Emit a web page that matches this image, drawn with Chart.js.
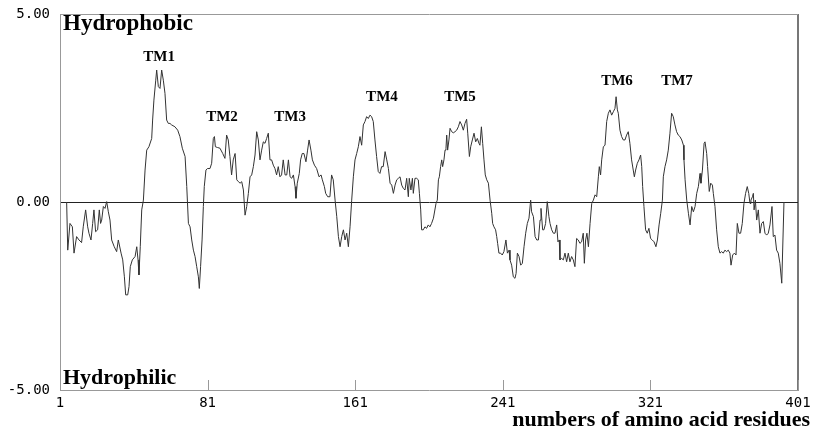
<!DOCTYPE html>
<html>
<head>
<meta charset="utf-8">
<script src="https://cdn.jsdelivr.net/npm/chart.js@4.4.1/dist/chart.umd.min.js"></script>
<style>
    html, body { margin: 0; padding: 0; background: #fff; }
</style>
</head>
<body>
<canvas id="hydroChart" width="813" height="434"></canvas>
<script>
// Hydropathy profile (residue number, score)
const residues = [
    4.6, 5.2, 6.4, 7.7, 8.6, 10.0, 11.3, 12.7, 13.6, 14.9, 16.0, 16.7, 17.8, 18.7, 19.4, 20.3, 21.4, 22.3, 23.0, 23.6,
    24.5, 25.4, 26.3, 27.2, 28.1, 29.0, 30.4, 31.7, 32.6, 34.1, 35.0, 35.9, 36.6, 37.7, 38.4, 39.1, 40.2, 41.7, 42.6, 43.3,
    43.8, 44.5, 45.3, 46.2, 47.1, 48.0, 49.2, 50.7, 51.2, 51.9, 52.9, 53.4, 54.3, 55.2, 56.1, 57.0, 57.9, 58.8, 59.7, 60.6,
    61.5, 63.3, 64.8, 66.0, 67.3,
    68.8, 69.7, 70.6, 71.5, 72.4, 73.3, 74.2, 75.1, 76.0, 76.5, 77.2, 78.0, 78.7, 79.2, 80.1, 80.9, 82.3, 83.2, 84.1, 84.7,
    85.2, 86.3, 87.7, 89.2, 90.4, 91.3, 92.2, 93.1, 94.0, 94.9, 95.9, 96.8, 97.7, 98.6, 99.5, 100.4, 101.3, 102.2, 103.1, 104.0,
    104.9, 105.8, 106.7, 107.6, 108.5, 109.4, 110.3, 111.2, 112.1, 113.0, 113.9, 114.8, 115.7, 116.6, 117.5, 118.4, 119.3, 120.2, 121.1, 122.0,
    123.0, 123.9, 124.8, 125.7, 126.6, 127.5, 128.4, 128.9, 129.6, 130.7, 131.4, 132.3, 133.2, 134.3, 135.2,
    136.0, 137.0, 137.8, 138.9, 140.1, 141.4, 142.5, 143.2, 144.3, 145.0, 146.1, 147.3, 148.2, 149.1, 150.1, 151.0, 151.9, 152.8, 153.7, 154.6,
    155.5, 156.4, 157.3, 158.2, 159.1, 160.0, 160.9, 161.8, 162.7, 163.6, 164.5, 165.4, 166.3, 167.2, 168.1, 169.0, 169.9, 170.8, 171.7, 172.6,
    173.5, 174.4, 175.3, 176.2, 177.2, 178.1, 179.0, 179.9, 180.8, 181.7, 182.6, 183.5, 184.4, 185.3, 186.2, 187.1, 188.0, 188.9, 189.8, 190.3,
    191.2, 192.0, 192.5, 193.4, 194.3, 195.2, 195.8, 196.5, 197.0, 197.9, 198.8, 199.7, 200.6, 201.5, 202.4, 203.4,
    204.8, 205.5, 206.1, 206.6, 207.3, 207.9, 208.4, 209.1, 209.7, 210.2, 210.6, 211.1, 211.8, 212.4, 213.3, 214.2, 215.1, 216.0, 216.9, 217.8,
    218.7, 219.6, 220.5, 221.4, 222.0, 222.9, 223.6, 224.5, 225.4, 226.3, 227.2, 228.1, 228.6, 229.4, 230.1, 230.8, 231.5, 232.3, 233.2, 234.1,
    235.0, 235.5, 236.2, 237.1, 237.7, 238.2, 238.9, 239.8, 240.7, 241.6, 242.7, 243.5, 244.4, 244.9, 245.8, 246.7, 247.6, 248.2, 248.9, 249.8,
    250.7, 251.6, 252.5, 253.4, 254.3, 255.2, 256.1, 256.6, 257.6, 258.5, 259.4, 260.3, 261.2, 261.7, 262.6, 263.3, 264.2, 265.1, 266.0, 266.6,
    267.5, 268.4, 269.3, 270.2, 270.9, 271.6, 272.0,
    272.9, 273.8, 274.7, 275.6, 276.5, 277.4, 278.3, 279.2, 280.1, 281.0, 281.9, 282.8, 283.7, 284.6, 285.2, 285.9, 286.6, 287.4, 288.3, 289.2,
    290.1, 291.0, 291.9, 292.8, 293.3, 294.0, 294.6, 295.5, 296.4, 297.3, 298.2, 299.1, 300.0, 300.9, 301.8, 302.4, 303.1, 303.6, 304.5, 305.4,
    306.3, 307.2, 308.1, 309.0, 309.9, 310.8, 311.7, 312.3, 313.0, 313.9, 314.8, 315.7, 316.3, 316.8, 317.5, 318.4, 319.3, 320.2, 321.1, 322.0,
    323.0, 324.0, 324.8, 325.7, 326.6, 327.5, 328.0, 328.9, 329.8, 330.7, 331.6, 332.5, 333.4, 334.3, 335.2, 336.1, 337.0, 338.0, 338.9,
    339.2, 339.8, 340.7, 341.6, 342.5, 343.4, 344.3, 345.2, 346.1, 347.0, 347.9, 348.4, 349.2, 350.1, 350.6, 351.5, 352.0, 352.9, 353.7, 354.6,
    355.1, 356.0, 356.9, 357.8, 358.7, 359.6, 360.5, 361.4, 362.3, 363.2, 364.1, 364.7, 365.6, 366.5, 367.4, 368.1, 369.0, 369.9, 370.8, 371.7,
    372.6, 373.5, 374.3, 375.0, 375.5, 376.3, 376.8, 377.2, 377.9, 378.6, 379.5, 380.4, 381.3, 382.2, 383.1, 384.0, 384.9, 385.8, 386.9, 387.6,
    388.5, 389.4, 390.3, 391.2, 392.2, 393.4
];
const hydropathy = [
    0, -1.28, -0.57, -0.66, -1.36, -0.92, -1.01, -1.08, -0.66, -0.21, -0.66, -0.83, -1.01, -0.57, -0.21, -0.79, -0.74, -0.21, -0.57, -0.48,
    -0.12, -0.17, 0.01, -0.26, -0.48, -1.01, -1.19, -1.32, -1.01, -1.36, -1.54, -1.99, -2.47, -2.47, -2.25, -1.72, -1.54, -1.45, -1.19, -1.54,
    -1.94, -1.19, -0.21, 0.05, 0.85, 1.38, 1.47, 1.69, 2.18, 2.71, 3.24, 3.51, 3.07, 3.02, 3.51, 3.24, 2.89, 2.18, 2.09, 2.09,
    2.05, 2.00, 1.91, 1.74, 1.43,
    1.21, 0.41, -0.57, -0.66, -1.01, -1.28, -1.45, -1.72, -1.99, -2.30, -1.72, -1.01, -0.12, 0.41, 0.85, 0.89, 0.89, 1.03, 1.69, 1.74,
    1.47, 1.45, 1.43, 1.29, 1.16, 1.78, 1.65, 1.21, 0.72, 1.12, 1.29, 0.59, 0.54, 0.50, 0.54, 0.32, -0.35, -0.12, 0.23, 0.67,
    0.72, 0.94, 1.25, 1.87, 1.65, 1.12, 1.38, 1.60, 1.56, 1.69, 1.83, 1.12, 1.12, 0.98, 0.89, 0.72, 0.94, 0.67, 0.72, 1.12,
    0.72, 0.72, 1.12, 0.67, 0.63, 0.72, 0.41, 0.10, 0.50, 0.76, 1.12, 1.29, 1.29, 1.07, 1.38,
    1.65, 1.38, 1.12, 0.98, 0.89, 0.67, 0.72, 0.59, 0.41, 0.23, 0.14, 0.14, 0.72, 0.59, 0.05, -0.39, -0.92, -1.19, -0.92, -0.74,
    -1.01, -0.83, -1.19, -0.66, 0.05, 0.67, 1.12, 1.29, 1.47, 1.74, 1.51, 2.05, 2.14, 2.27, 2.22, 2.31, 2.27, 2.14, 1.65, 1.21,
    0.81, 0.76, 0.94, 0.94, 1.34, 1.12, 0.89, 0.50, 0.45, 0.23, 0.45, 0.59, 0.63, 0.67, 0.45, 0.36, 0.32, 0.63, 0.14, 0.63,
    0.32, 0.63, 0.23, 0.63, 0.63, 0.59, 0.23, -0.21, -0.74, -0.74, -0.66, -0.70, -0.61, -0.66, -0.57, -0.43,
    -0.04, 0.05, 0.59, 0.67, 0.94, 1.12, 0.94, 1.12, 1.38, 1.43, 1.78, 1.38, 1.65, 1.96, 1.87, 1.84, 1.87, 1.91, 2.00, 2.14,
    2.05, 1.91, 2.09, 2.20, 1.83, 1.21, 1.47, 1.65, 1.83, 1.60, 1.69, 1.56, 1.51, 2.00, 1.56, 1.12, 0.72, 0.59, 0.50, 0.05,
    -0.30, -0.57, -0.66, -0.74, -0.92, -1.10, -1.36, -1.36, -1.41, -1.32, -1.01, -1.36, -1.28, -1.54, -1.68, -1.99, -2.03, -1.90, -1.36, -1.45,
    -1.68, -1.63, -1.19, -0.83, -0.57, -0.43, 0.05, -0.26, -0.39, -0.92, -1.01, -1.01, -0.48, -0.17, -0.74, -0.74, -0.57, 0.01, -0.39, -0.57,
    -0.74, -0.83, -0.83, -0.61, -1.06, -1.01, -1.54,
    -1.50, -1.54, -1.36, -1.59, -1.36, -1.59, -1.45, -1.54, -1.72, -0.97, -1.01, -1.10, -1.06, -0.83, -1.63, -1.01, -0.83, -1.19, -0.57, -0.04,
    0.05, 0.19, 0.14, 0.67, 0.94, 0.72, 1.12, 1.47, 1.51, 2.14, 2.36, 2.45, 2.31, 2.40, 2.49, 2.80, 2.45, 2.36, 1.91, 1.74,
    1.65, 1.65, 1.78, 1.87, 1.56, 1.12, 0.85, 0.67, 0.85, 1.03, 1.12, 1.25, 0.94, 0.41, -0.12, -0.74, -0.83, -0.70, -0.97, -1.01,
    -1.06, -1.19, -1.01, -0.61, -0.30, 0.05, 0.67, 0.94, 1.12, 1.38, 1.83, 2.36, 2.27, 2.05, 1.87, 1.78, 1.74, 1.65, 1.51,
    1.12, 0.59, 0.05, -0.30, -0.61, -0.12, -0.26, -0.12, 0.23, 0.41, 0.76, 0.50, 0.85, 1.56, 1.60, 1.29, 0.94, 0.28, 0.50, 0.45,
    0.23, -0.12, -0.74, -1.19, -1.36, -1.32, -1.36, -1.28, -1.32, -1.28, -1.36, -1.68, -1.41, -1.36, -1.41, -0.57, -0.83, -0.83, -0.57, -0.04,
    0.23, 0.41, 0.23, -0.04, 0.05, 0.14, 0.23, -0.21, 0.05, -0.48, -0.21, -0.83, -0.57, -0.52, -0.83, -0.88, -0.83, -0.61, -0.12, -0.92,
    -0.88, -1.28, -1.36, -1.63, -2.16, 0
];

const xTicks = [1, 81, 161, 241, 321, 401];
const yTicks = [-5, 0, 5];

// transmembrane segment labels: name, residue at label centre, score level
const tmNames = ['TM1', 'TM2', 'TM3', 'TM4', 'TM5', 'TM6', 'TM7'];
const tmResidue = [54.7, 88.8, 125.7, 175.5, 217.8, 302.9, 335.4];
const tmLevel = [3.86, 2.26, 2.26, 2.78, 2.78, 3.22, 3.22];

const monoFont = { family: '"DejaVu Sans Mono", monospace', size: 14 };
const serifBold = '"Liberation Serif", "Times New Roman", serif';

// draws the inward x ticks, the side captions and the TM labels
const overlayPlugin = {
    id: 'overlay',
    afterDraw(chart) {
        const { ctx, chartArea, scales } = chart;
        ctx.save();

        ctx.strokeStyle = '#999';
        ctx.lineWidth = 1;
        xTicks.forEach(v => {
            const px = Math.round(scales.x.getPixelForValue(v)) + 0.5;
            ctx.beginPath();
            ctx.moveTo(px, chartArea.bottom);
            ctx.lineTo(px, chartArea.bottom - 10);
            ctx.stroke();
        });

        ctx.fillStyle = '#000';
        ctx.textBaseline = 'alphabetic';
        ctx.textAlign = 'left';
        ctx.font = 'bold 23px ' + serifBold;
        ctx.fillText('Hydrophobic', chartArea.left + 3, chartArea.top + 16);
        ctx.font = 'bold 22px ' + serifBold;
        ctx.fillText('Hydrophilic', chartArea.left + 3, chartArea.bottom - 6);
        ctx.textAlign = 'right';
        ctx.fillText('numbers of amino acid residues', chart.width - 3, chart.height - 8);

        ctx.font = 'bold 15px ' + serifBold;
        ctx.textAlign = 'center';
        ctx.textBaseline = 'middle';
        tmNames.forEach((name, i) => {
            ctx.fillText(name, scales.x.getPixelForValue(tmResidue[i]), scales.y.getPixelForValue(tmLevel[i]));
        });

        ctx.restore();
    }
};

const points = residues.map((r, i) => ({ x: r, y: hydropathy[i] }));

new Chart(document.getElementById('hydroChart'), {
    type: 'line',
    data: {
        datasets: [{
            data: points,
            borderColor: '#333',
            borderWidth: 1,
            pointRadius: 0,
            tension: 0,
            fill: false
        }]
    },
    options: {
        responsive: false,
        animation: false,
        layout: {
            padding: { top: 14, right: 15, left: 0, bottom: 0 }
        },
        plugins: {
            legend: { display: false },
            tooltip: { enabled: false }
        },
        scales: {
            x: {
                type: 'linear',
                min: 1,
                max: 401,
                afterBuildTicks: scale => {
                    scale.ticks = xTicks.map(v => ({ value: v }));
                },
                afterFit: scale => {
                    scale.height = 44;
                    scale.paddingLeft = 0;
                    scale.paddingRight = 0;
                },
                ticks: {
                    font: monoFont,
                    color: '#000',
                    padding: 5,
                    maxRotation: 0,
                    autoSkip: false
                },
                grid: {
                    drawTicks: false,
                    color: ctx => (ctx.tick && ctx.tick.value === 401) ? '#777' : 'rgba(0,0,0,0)',
                    lineWidth: ctx => (ctx.tick && ctx.tick.value === 401) ? 2 : 1
                },
                border: { display: true, color: '#999', width: 1 }
            },
            y: {
                min: -5,
                max: 5,
                afterBuildTicks: scale => {
                    scale.ticks = yTicks.map(v => ({ value: v }));
                },
                afterFit: scale => {
                    scale.width = 60;
                    scale.paddingTop = 0;
                    scale.paddingBottom = 0;
                },
                ticks: {
                    font: monoFont,
                    color: '#000',
                    padding: 10,
                    callback: v => v.toFixed(2)
                },
                grid: {
                    drawTicks: false,
                    color: ctx => {
                        if (!ctx.tick) return 'rgba(0,0,0,0)';
                        if (ctx.tick.value === 0) return '#222';
                        if (ctx.tick.value === 5) return '#999';
                        return 'rgba(0,0,0,0)';
                    }
                },
                border: { display: true, color: '#999', width: 1 }
            }
        }
    },
    plugins: [overlayPlugin]
});
</script>
</body>
</html>
